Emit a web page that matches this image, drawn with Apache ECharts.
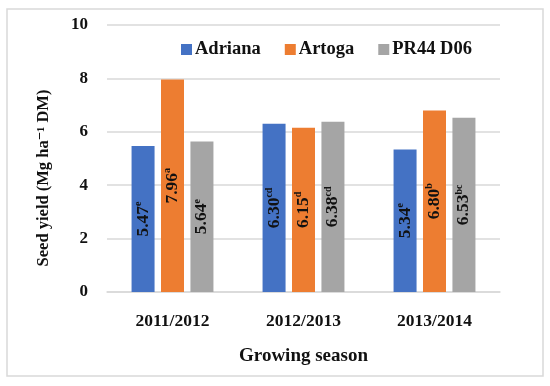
<!DOCTYPE html>
<html><head><meta charset="utf-8">
<script src="https://cdn.jsdelivr.net/npm/echarts@6/dist/echarts.min.js"></script>
<style>html,body{margin:0;padding:0;background:#fff}#c{width:550px;height:386px}</style>
</head><body><div id="c"></div>
<script>
var categories = ['2011/2012', '2012/2013', '2013/2014'];
var seriesNames = ['Adriana', 'Artoga', 'PR44 D06'];
var adriana = [5.47, 6.30, 5.34];
var artoga = [7.96, 6.15, 6.80];
var pr44 = [5.64, 6.38, 6.53];
var adrianaLetters = ['e', 'cd', 'e'];
var artogaLetters = ['a', 'd', 'b'];
var pr44Letters = ['e', 'cd', 'bc'];
var yTicks = [0, 2, 4, 6, 8, 10];
var yTitle = 'Seed yield (Mg ha\u207B\u00B9 DM)';
var xTitle = 'Growing season';

var colors = ['#4472C4', '#ED7D31', '#A5A5A5'];
var FONT = '"Liberation Serif", "DejaVu Serif", serif';

function mk(name, vals, letters, color) {
  return {
    name: name, type: 'bar', data: vals,
    barWidth: 23, barGap: '28%',
    itemStyle: { color: color },
    label: {
      show: true, position: 'inside', rotate: 90,
      formatter: function (p) { return '{a|' + p.value.toFixed(2) + '}{s|' + letters[p.dataIndex] + '}'; },
      rich: {
        a: { fontFamily: FONT, fontWeight: 'bold', fontSize: 17.5, color: '#111', lineHeight: 20 },
        s: { fontFamily: FONT, fontWeight: 'bold', fontSize: 10, color: '#111', verticalAlign: 'top', lineHeight: 20, padding: [0, 0, 8, 0] }
      }
    }
  };
}

var chart = echarts.init(document.getElementById('c'));
chart.setOption({
  animation: false,
  color: colors,
  textStyle: { fontFamily: FONT },
  graphic: [{
    type: 'rect', shape: { x: 7, y: 9, width: 536, height: 367 },
    style: { fill: 'none', stroke: '#d9d9d9', lineWidth: 1.5 }, z: -1
  }, {
    type: 'text', x: 44, y: 178, rotation: Math.PI / 2,
    style: { text: yTitle, fontFamily: FONT, fontWeight: 'bold', fontSize: 16.5, fill: '#111', align: 'center', verticalAlign: 'middle' }
  }],
  legend: {
    data: seriesNames, top: 35, left: 176,
    itemWidth: 11, itemHeight: 11, itemGap: 24,
    icon: 'rect',
    textStyle: { fontFamily: FONT, fontWeight: 'bold', fontSize: 18.5, color: '#111', padding: [0, 0, 0, -2] }
  },
  grid: { left: 107, right: 50, top: 25, bottom: 94 },
  xAxis: {
    type: 'category', data: categories,
    axisTick: { show: false },
    axisLine: { lineStyle: { color: '#d9d9d9', width: 1.5 } },
    axisLabel: { fontFamily: FONT, fontWeight: 'bold', fontSize: 17.5, color: '#111', margin: 20 },
    name: xTitle, nameLocation: 'middle', nameGap: 55,
    nameTextStyle: { fontFamily: FONT, fontWeight: 'bold', fontSize: 19, color: '#111' }
  },
  yAxis: {
    type: 'value', min: yTicks[0], max: yTicks[yTicks.length - 1], interval: 2,
    axisLabel: { fontFamily: FONT, fontWeight: 'bold', fontSize: 17, color: '#111', margin: 19 },
    splitLine: { lineStyle: { color: '#d9d9d9', width: 1.5 } }
  },
  series: [
    mk(seriesNames[0], adriana, adrianaLetters, colors[0]),
    mk(seriesNames[1], artoga, artogaLetters, colors[1]),
    mk(seriesNames[2], pr44, pr44Letters, colors[2])
  ]
});
</script></body></html>
